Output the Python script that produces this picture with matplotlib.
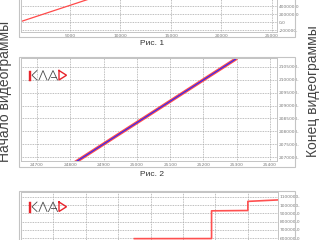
import matplotlib
matplotlib.use("Agg")
import matplotlib.pyplot as plt
from matplotlib.lines import Line2D
from matplotlib.patches import Rectangle
from matplotlib.ticker import MultipleLocator, FuncFormatter

# --- data ---
# Рис. 1: frame number vs. timecode
fig1_x = [0, 7000]
fig1_y = [0, 583000]

# Рис. 2: zoomed part, red = measured, blue = fitted
fig2_x = [24812, 25296]
fig2_red = [2067700, 2108000]
fig2_blue = [2067700, 2108000]

# Рис. 3: stepped curve
fig3_x = [3.5, 5.88, 5.88, 7.0, 7.0, 7.95]
fig3_y = [593000, 594000, 931000, 935000, 1046000, 1064000]

caption1 = "Рис. 1"
caption2 = "Рис. 2"
left_label = "Начало видеограммы"
right_label = "Конец видеограммы"

W, H = 319, 240
GRID = "#a8a8a8"
FRAME = "#c4c4c4"
TICK = "#7a7a7a"
FONT = "Liberation Sans"

fig = plt.figure(figsize=(W / 100, H / 100), dpi=100)
fig.patch.set_facecolor("white")


def fx(x):
    return x / W


def fy(y):
    return 1 - y / H


def add_panel(l, t, r, b):
    ax = fig.add_axes([fx(l), fy(b), (r - l) / W, (b - t) / H])
    for s in ax.spines.values():
        s.set_color(FRAME)
        s.set_linewidth(0.7)
    ax.grid(True, linestyle=(0, (1, 1)), color=GRID, linewidth=0.6)
    ax.set_axisbelow(True)
    ax.yaxis.tick_right()
    ax.tick_params(length=0, labelsize=3.2, labelcolor=TICK, pad=1.2)
    ax.yaxis.set_major_formatter(
        FuncFormatter(lambda v, _: f"{v:.1f}".replace(".", ",")[:8]))
    ax.xaxis.set_major_formatter(FuncFormatter(lambda v, _: f"{v:.0f}"))
    return ax


def outer_box(l, t, r, b):
    fig.add_artist(Rectangle((fx(l), fy(b)), (r - l) / W, (b - t) / H,
                             transform=fig.transFigure, fill=False,
                             edgecolor=FRAME, linewidth=0.8))


def px_line(xs, ys, color, lw):
    fig.add_artist(Line2D([fx(x) for x in xs], [fy(y) for y in ys],
                          transform=fig.transFigure, color=color,
                          linewidth=lw, solid_joinstyle="miter"))


def draw_logo(x0, y0):
    h = 9.5
    red = "#e8242b"
    grey = "#4a4a4a"
    px_line([x0 + 0.6, x0 + 0.6], [y0, y0 + h], red, 1.0)
    px_line([x0 + 2.2, x0 + 2.2], [y0, y0 + h], red, 1.0)
    px_line([x0 + 9, x0 + 4, x0 + 9], [y0, y0 + h / 2, y0 + h], grey, 0.6)
    px_line([x0 + 11, x0 + 15, x0 + 19], [y0 + h, y0, y0 + h], grey, 0.6)
    px_line([x0 + 20.5, x0 + 25, x0 + 29.5], [y0 + h, y0, y0 + h], grey, 0.6)
    px_line([x0 + 22.5, x0 + 27.5], [y0 + h * 0.65, y0 + h * 0.65], grey, 0.6)
    px_line([x0 + 31, x0 + 38.5, x0 + 31, x0 + 31],
            [y0, y0 + h / 2, y0 + h, y0], red, 1.0)


# ---------- Рис. 1 ----------
ax1 = add_panel(21, -10, 277, 32)
ax1.set_xlim(150, 25500)
ax1.set_ylim(-250000, 800000)
ax1.xaxis.set_major_locator(MultipleLocator(5000))
ax1.yaxis.set_major_locator(MultipleLocator(200000))
ax1.plot(fig1_x, fig1_y, color="#ff4a4a", linewidth=0.9)
outer_box(19, -10, 295, 36.5)
fig.text(fx(152), fy(43.5), caption1, ha="center", va="center",
         fontsize=6, family=FONT, color="#333333")

# ---------- Рис. 2 ----------
ax2 = add_panel(21, 58, 277, 161)
ax2.set_xlim(24652, 25421)
ax2.set_ylim(2068445, 2108491)
ax2.xaxis.set_major_locator(MultipleLocator(100))
ax2.yaxis.set_major_locator(MultipleLocator(5000))
ax2.plot(fig2_x, fig2_red, color="#ff3030", linewidth=2.4, alpha=0.85)
ax2.plot(fig2_x, fig2_blue, color="#2a2aff", linewidth=0.8)
outer_box(19, 57, 295, 167)
draw_logo(28, 70.5)
fig.text(fx(152), fy(175), caption2, ha="center", va="center",
         fontsize=6, family=FONT, color="#333333")

# ---------- Рис. 3 ----------
ax3 = add_panel(21, 192, 278, 250)
ax3.set_xlim(0, 7.93)
ax3.set_ylim(455000, 1160000)
ax3.xaxis.set_major_locator(MultipleLocator(1))
ax3.yaxis.set_major_locator(MultipleLocator(100000))
ax3.plot(fig3_x, fig3_y, color="#ff5050", linewidth=1.2)
outer_box(19, 191, 295, 262)
draw_logo(28, 202)

# side labels
fig.text(fx(5.5), fy(91), left_label, rotation=90, ha="center",
         va="center", fontsize=10, family=FONT, color="#444444")
fig.text(fx(312.5), fy(91), right_label, rotation=90, ha="center",
         va="center", fontsize=10, family=FONT, color="#444444")

fig.savefig("out.png", dpi=100)
